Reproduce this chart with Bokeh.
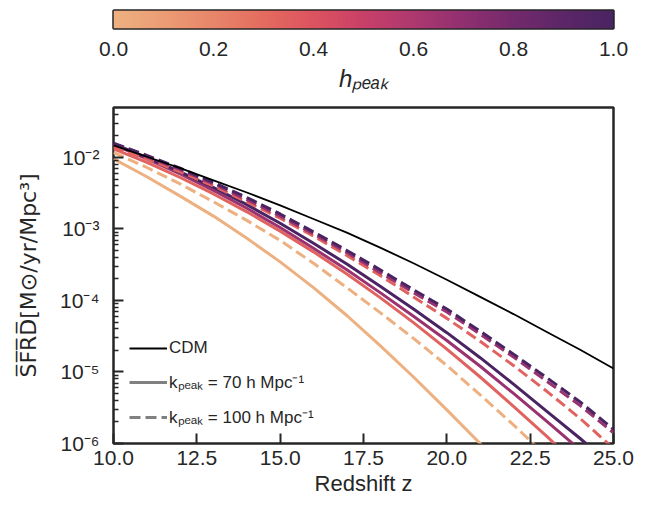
import numpy as np
from bokeh.plotting import figure
from bokeh.models import (Range1d, LinearColorMapper, Legend, LegendItem,
                          CustomJSTickFormatter, FixedTicker, PrintfTickFormatter)
from bokeh.layouts import column
from bokeh.embed import file_html
from bokeh.resources import INLINE

# ---------------- data (log10 of SFRD) ----------------
z = [10, 11, 12, 13, 14, 15, 16, 17, 18, 19, 20, 21, 22, 23, 24, 25]

cdm_log = [-1.83, -1.99, -2.15, -2.32, -2.49, -2.67, -2.86, -3.05, -3.26, -3.48,
           -3.71, -3.95, -4.19, -4.44, -4.69, -4.95]

h_values = [0.0, 1/3, 2/3, 1.0]

k70_log = [
    [-2.02, -2.27, -2.54, -2.82, -3.13, -3.46, -3.82, -4.21, -4.63, -5.07, -5.53, -6.00, -6.50],
    [-1.88, -2.07, -2.28, -2.51, -2.76, -3.03, -3.32, -3.63, -3.96, -4.31, -4.68, -5.07, -5.48, -5.90, -6.34],
    [-1.82, -2.02, -2.23, -2.46, -2.71, -2.98, -3.27, -3.57, -3.89, -4.22, -4.56, -4.92, -5.30, -5.69, -6.09],
    [-1.81, -2.00, -2.20, -2.42, -2.66, -2.92, -3.20, -3.49, -3.80, -4.12, -4.45, -4.80, -5.17, -5.55, -5.93, -6.33],
]
k100_log = [
    [-1.93, -2.14, -2.37, -2.62, -2.88, -3.16, -3.48, -3.82, -4.17, -4.53, -4.91, -5.32, -5.74, -6.18],
    [-1.85, -2.02, -2.20, -2.40, -2.62, -2.85, -3.10, -3.37, -3.65, -3.95, -4.25, -4.57, -4.91, -5.27, -5.65, -6.07],
    [-1.81, -1.99, -2.17, -2.37, -2.59, -2.82, -3.07, -3.33, -3.61, -3.89, -4.16, -4.47, -4.79, -5.13, -5.47, -5.85],
    [-1.80, -1.97, -2.15, -2.35, -2.56, -2.79, -3.04, -3.30, -3.57, -3.85, -4.12, -4.43, -4.75, -5.08, -5.42, -5.80],
]

x_ticks = [10.0, 12.5, 15.0, 17.5, 20.0, 22.5, 25.0]
y_decades = [-6, -5, -4, -3, -2]
cb_ticks = [0.0, 0.2, 0.4, 0.6, 0.8, 1.0]

# ---------------- colormap (flare-like) ----------------
cmap_pos = [0.0, 0.1, 0.2, 0.3, 0.4, 0.5, 0.6, 0.7, 0.8, 0.9, 1.0]
cmap_hex = ["#edb081", "#eb9c74", "#e8856a", "#e46b5f", "#dc5360", "#c94068",
            "#ae386f", "#912f70", "#742a6c", "#5c2667", "#4a2462"]


def _rgb(h):
    h = h.lstrip("#")
    return [int(h[i:i + 2], 16) for i in (0, 2, 4)]


def cmap(t):
    rgbs = np.array([_rgb(c) for c in cmap_hex], dtype=float)
    out = [np.interp(t, cmap_pos, rgbs[:, i]) for i in range(3)]
    return "#%02x%02x%02x" % tuple(int(round(v)) for v in out)


palette = [cmap(t) for t in np.linspace(0, 1, 256)]

FONT = "Liberation Sans"
DARK = "#262626"

# ---------------- main figure ----------------
p = figure(width=647, height=408, y_axis_type="log",
           x_range=Range1d(10, 25), y_range=Range1d(1e-6, 5e-2),
           output_backend="svg", toolbar_location=None,
           min_border_left=113, min_border_right=34,
           min_border_top=7, min_border_bottom=65)
p.grid.visible = False
p.outline_line_color = DARK
p.outline_line_width = 2.5
p.outline_line_alpha = 1.0

for i, h in enumerate(h_values):
    col = cmap(h)
    v = k70_log[i]
    p.line(z[:len(v)], [10 ** a for a in v], color=col, line_width=3)
for i, h in enumerate(h_values):
    col = cmap(h)
    v = k100_log[i]
    p.line(z[:len(v)], [10 ** a for a in v], color=col, line_width=3,
           line_dash="11 5")

r_cdm = p.line(z, [10 ** a for a in cdm_log], color="black", line_width=1.8)
r_70 = p.line(x=[np.nan], y=[np.nan], color="gray", line_width=3)
r_100 = p.line(x=[np.nan], y=[np.nan], color="gray", line_width=3, line_dash="11 5")

legend = Legend(items=[
    LegendItem(label="CDM", renderers=[r_cdm], index=0),
    LegendItem(label="kₚₑₐₖ = 70 h Mpc⁻¹", renderers=[r_70], index=0),
    LegendItem(label="kₚₑₐₖ = 100 h Mpc⁻¹", renderers=[r_100], index=0),
], location=(16, 15))
legend.border_line_color = None
legend.background_fill_alpha = 0
legend.padding = 0
legend.margin = 0
legend.glyph_width = 38
legend.glyph_height = 20
legend.label_height = 20
legend.label_standoff = 2
legend.spacing = 12
legend.label_text_font = FONT
legend.label_text_font_size = "17px"
legend.label_text_color = DARK
p.add_layout(legend)

p.xaxis.ticker = FixedTicker(ticks=x_ticks)
p.xaxis.formatter = PrintfTickFormatter(format="%.1f")
p.xaxis.axis_label = "Redshift z"

minor = [m * 10.0 ** d for d in y_decades for m in range(2, 10) if m * 10.0 ** d < 5e-2]
p.yaxis.ticker = FixedTicker(ticks=[10.0 ** d for d in y_decades], minor_ticks=minor)
p.yaxis.formatter = CustomJSTickFormatter(code="""
const e = Math.round(Math.log10(tick));
const sup = {"-":"\u207b","0":"\u2070","1":"\u00b9","2":"\u00b2","3":"\u00b3","4":"\u2074","5":"\u2075","6":"\u2076","7":"\u2077","8":"\u2078","9":"\u2079"};
return "10" + String(e).split("").map(c => sup[c]).join("");
""")
p.yaxis.axis_label = "S\u0305F\u0305R\u0305D\u0305[M\u2299/yr/Mpc\u00b3]"

for ax in (p.xaxis[0], p.yaxis[0]):
    ax.axis_line_color = None
    ax.major_tick_in = 10
    ax.major_tick_out = 0
    ax.minor_tick_in = 5
    ax.minor_tick_out = 0
    ax.major_tick_line_color = DARK
    ax.major_tick_line_width = 2
    ax.minor_tick_line_color = DARK
    ax.minor_tick_line_width = 1.5
    ax.major_label_text_font = FONT
    ax.major_label_text_font_size = "21px"
    ax.major_label_text_color = DARK
    ax.axis_label_text_font = FONT
    ax.axis_label_text_font_size = "22px"
    ax.axis_label_text_font_style = "normal"
    ax.axis_label_text_color = DARK
p.xaxis.minor_tick_line_color = None
p.xaxis.major_label_standoff = 7
p.xaxis.axis_label_standoff = 3
p.yaxis.major_label_standoff = 14
p.yaxis.axis_label_standoff = 16
p.yaxis.axis_label_text_font = "DejaVu Sans"
p.yaxis.axis_label_text_font_size = "22px"

# ---------------- colorbar figure ----------------
cb = figure(width=647, height=100, x_range=Range1d(0, 1), y_range=Range1d(0, 1),
            output_backend="svg", toolbar_location=None, y_axis_location=None,
            min_border_left=113, min_border_right=34,
            min_border_top=10, min_border_bottom=72)
cb.grid.visible = False
mapper = LinearColorMapper(palette=palette, low=0, high=1)
grad = np.linspace(0, 1, 256).reshape(1, 256)
cb.image(image=[grad], x=0, y=0, dw=1, dh=1, color_mapper=mapper)
cb.outline_line_color = DARK
cb.outline_line_width = 2.5
cb.outline_line_alpha = 1.0
cax = cb.xaxis[0]
cax.ticker = FixedTicker(ticks=cb_ticks)
cax.formatter = PrintfTickFormatter(format="%.1f")
cax.axis_line_color = None
cax.major_tick_line_color = None
cax.minor_tick_line_color = None
cax.major_label_standoff = 7
cax.major_label_text_font = FONT
cax.major_label_text_font_size = "21px"
cax.major_label_text_color = DARK
cax.axis_label = "hₚₑₐₖ"
cax.axis_label_text_font = FONT
cax.axis_label_text_font_size = "24px"
cax.axis_label_text_font_style = "italic"
cax.axis_label_text_color = DARK
cax.axis_label_standoff = 6

layout = column(cb, p, spacing=0)
open("out.html", "w").write(file_html(layout, INLINE))
